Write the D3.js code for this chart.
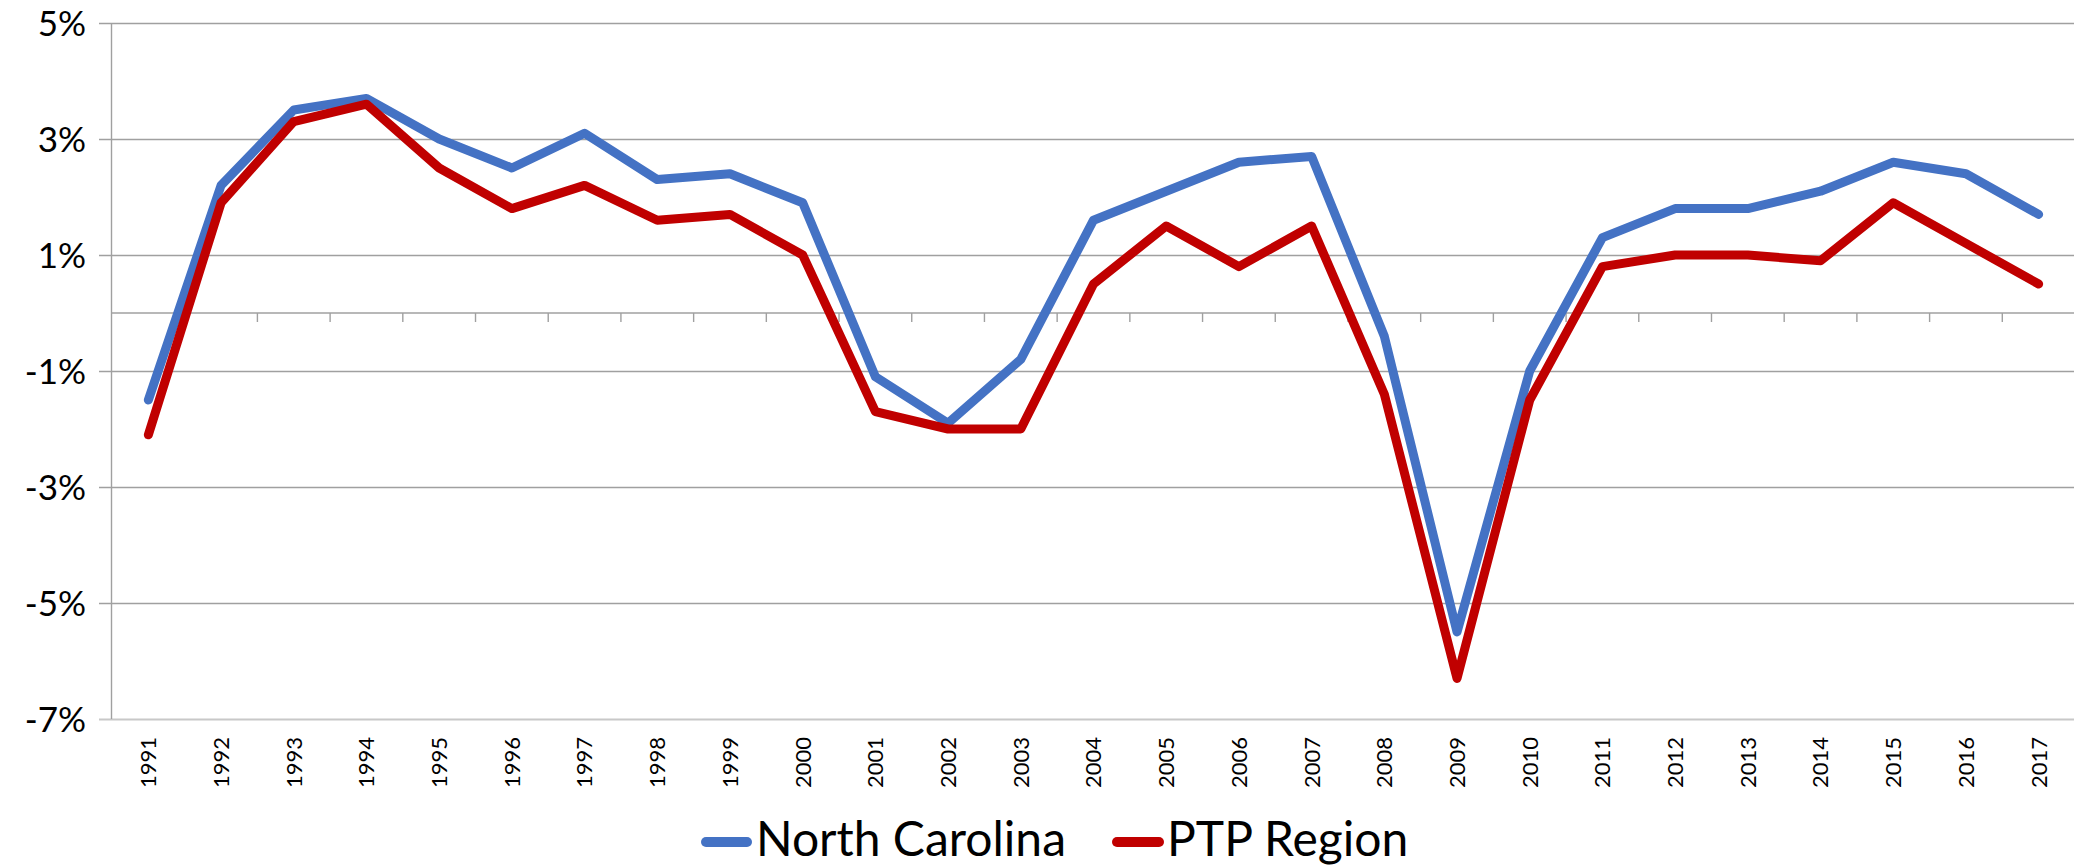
<!DOCTYPE html>
<html>
<head>
<meta charset="utf-8">
<script src="https://cdn.jsdelivr.net/npm/d3@7"></script>
<style>
  html, body { margin: 0; padding: 0; background: #fff; }
  svg { display: block; }
</style>
</head>
<body>
<svg id="chart" width="2074" height="868"></svg>
<script>
const years = ["1991","1992","1993","1994","1995","1996","1997","1998","1999","2000","2001","2002","2003","2004","2005","2006","2007","2008","2009","2010","2011","2012","2013","2014","2015","2016","2017"];
const northCarolina = [-1.5, 2.2, 3.5, 3.7, 3.0, 2.5, 3.1, 2.3, 2.4, 1.9, -1.1, -1.9, -0.8, 1.6, 2.1, 2.6, 2.7, -0.4, -5.5, -1.0, 1.3, 1.8, 1.8, 2.1, 2.6, 2.4, 1.7];
const ptpRegion = [-2.1, 1.9, 3.3, 3.6, 2.5, 1.8, 2.2, 1.6, 1.7, 1.0, -1.7, -2.0, -2.0, 0.5, 1.5, 0.8, 1.5, -1.4, -6.3, -1.5, 0.8, 1.0, 1.0, 0.9, 1.9, 1.2, 0.5];
const yTicks = [-7, -5, -3, -1, 1, 3, 5];
const seriesNames = ["North Carolina", "PTP Region"];
const seriesColors = ["#4472C4", "#C00000"];

(function () {
const svg = d3.select("#chart");
const pLeft = 112, pRight = 2075, pTop = 23, pBottom = 719;

const x = d3.scaleBand().domain(years).range([pLeft, pRight]).paddingInner(0).paddingOuter(0);
const y = d3.scaleLinear().domain([-7, 5]).range([pBottom, pTop]);
const cx = d => x(d) + x.bandwidth() / 2;

// gridlines
const yAxis = d3.axisLeft(y).tickValues(yTicks).tickFormat(d => d + "%").tickSize(-(2074 - pLeft)).tickPadding(26);
const gy = svg.append("g").attr("transform", `translate(${pLeft},0)`).call(yAxis);
gy.select(".domain").remove();
gy.selectAll(".tick line").attr("x1", -13).attr("stroke", d => d === -7 ? "#c8c8c8" : "#a0a0a0").attr("stroke-width", d => d === -7 ? 2 : 1.4);
gy.selectAll(".tick text").attr("font-family", "Lato, 'Open Sans', sans-serif").attr("font-size", 35).attr("fill", "#000").attr("dy", "0.36em");

// vertical axis line
svg.append("line").attr("x1", pLeft - 0.5).attr("x2", pLeft - 0.5).attr("y1", pTop).attr("y2", pBottom).attr("stroke", "#a0a0a0").attr("stroke-width", 1.4);

// zero axis line with tick marks between categories
svg.append("line").attr("x1", pLeft).attr("x2", 2074).attr("y1", y(0)).attr("y2", y(0)).attr("stroke", "#a0a0a0").attr("stroke-width", 1.4);
const boundaries = years.slice(1).map(d => x(d));
svg.append("g").selectAll("line").data(boundaries).join("line")
  .attr("x1", d => d).attr("x2", d => d).attr("y1", y(0)).attr("y2", y(0) + 9)
  .attr("stroke", "#a0a0a0").attr("stroke-width", 1.4);

// x labels at bottom
svg.append("g").selectAll("text").data(years).join("text")
  .attr("transform", d => `translate(${cx(d)},737) rotate(-90)`)
  .attr("text-anchor", "end").attr("dy", "0.36em")
  .attr("font-family", "Lato, 'Open Sans', sans-serif").attr("font-size", 22).attr("fill", "#000")
  .text(d => d);

// lines
const line = d3.line().x((d, i) => cx(years[i])).y(d => y(d));
[northCarolina, ptpRegion].forEach((s, i) => {
  svg.append("path").datum(s).attr("d", line).attr("fill", "none")
    .attr("stroke", seriesColors[i]).attr("stroke-width", 9)
    .attr("stroke-linejoin", "round").attr("stroke-linecap", "round");
});

// legend
const legendItems = [{x1: 701, x2: 752, tx: 756}, {x1: 1112, x2: 1164, tx: 1167}];
legendItems.forEach((it, i) => {
  svg.append("line").attr("x1", it.x1 + 5).attr("x2", it.x2 - 5).attr("y1", 842).attr("y2", 842)
    .attr("stroke", seriesColors[i]).attr("stroke-width", 10).attr("stroke-linecap", "round");
  svg.append("text").attr("x", it.tx).attr("y", 856)
    .attr("font-family", "Lato, 'Open Sans', sans-serif").attr("font-size", 48).attr("fill", "#000")
    .text(seriesNames[i]);
});
})();
</script>
</body>
</html>
